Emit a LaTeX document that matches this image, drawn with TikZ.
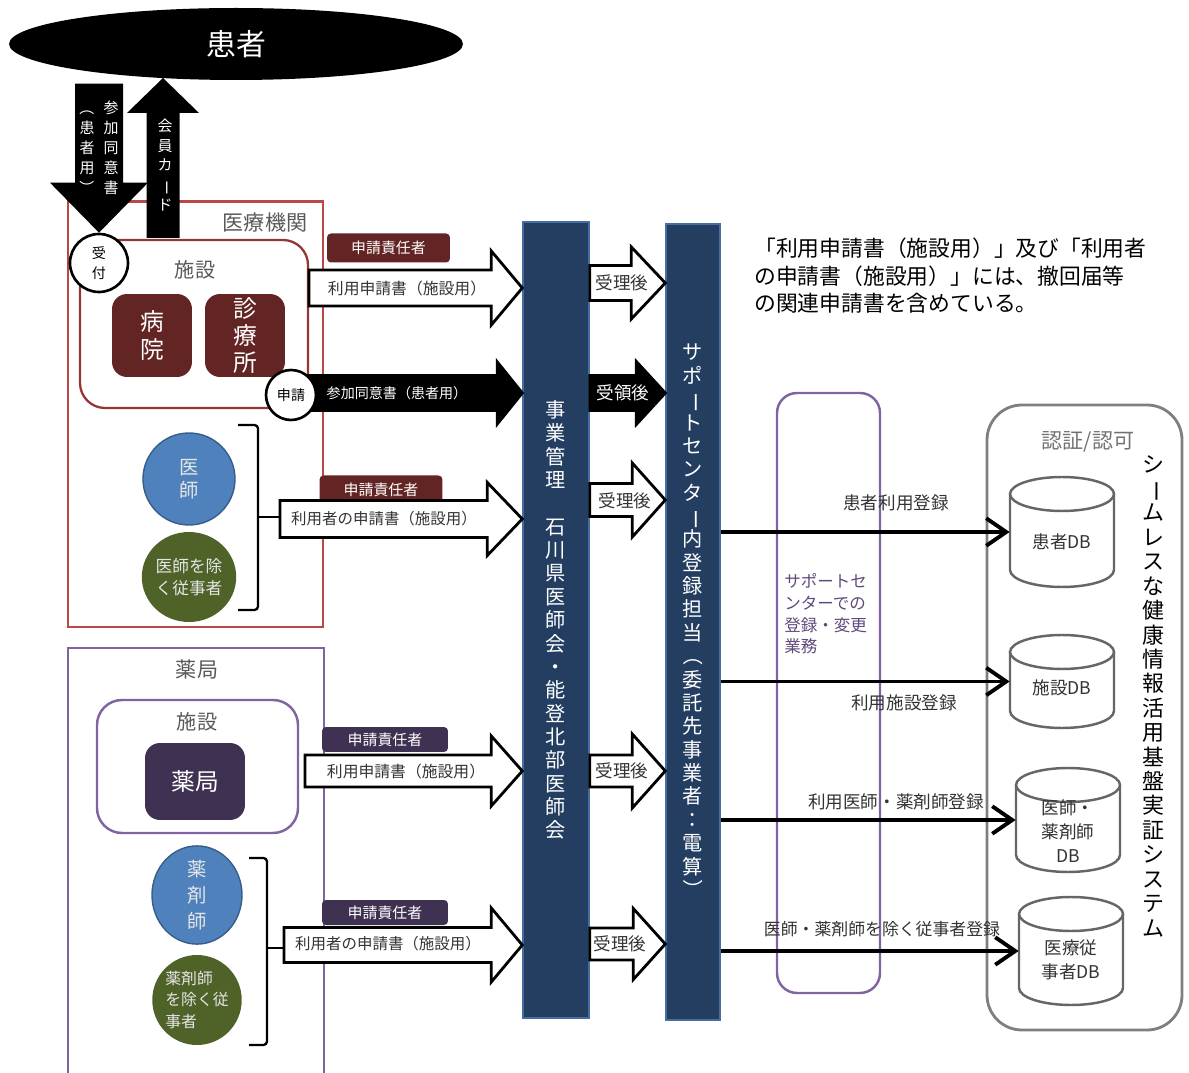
\documentclass[tikz,border=0pt]{standalone}
\usepackage{fontspec}
\setmainfont{Noto Sans CJK JP}
\usetikzlibrary{positioning,arrows.meta,shapes.geometric,calc,fit}
\definecolor{hospred}{RGB}{185,72,70}
\definecolor{facred}{RGB}{149,55,53}
\definecolor{darkred}{RGB}{99,37,35}
\definecolor{pharmpurple}{RGB}{128,100,162}
\definecolor{darkpurple}{RGB}{63,49,81}
\definecolor{purpletext}{RGB}{95,73,122}
\definecolor{colnavy}{RGB}{35,62,96}
\definecolor{coledge}{RGB}{70,110,160}
\definecolor{staffblue}{RGB}{79,129,189}
\definecolor{staffblueedge}{RGB}{56,93,138}
\definecolor{staffgreen}{RGB}{79,98,40}
\definecolor{sysgray}{RGB}{127,127,127}
\colorlet{labelgray}{black!65}
\newcommand{\vb}{\rotatebox[origin=c]{-90}{ー}}
\newcommand{\vlp}{\rotatebox[origin=c]{-90}{（}}
\newcommand{\vrp}{\rotatebox[origin=c]{-90}{）}}
\newcommand{\fs}[2]{\fontsize{#1pt}{#2pt}\selectfont}
% fat arrow: style, start, tip node, shaft half, head half, head length
\newcommand{\fatarrow}[6]{%
  \draw[#1] ($(#2)+(0,#4)$) -- ($(#3|-#2)+(-#6,#4)$) -- ($(#3|-#2)+(-#6,#5)$) -- (#3|-#2)
    -- ($(#3|-#2)+(-#6,-#5)$) -- ($(#3|-#2)+(-#6,-#4)$) -- ($(#2)+(0,-#4)$) -- cycle;}
% database: name, centre x, top, bottom
\newcommand{\dbcyl}[4]{%
  \draw[dbline] (#2-52,#3-17) -- (#2-52,#4+17) arc[start angle=180,end angle=360,x radius=1.04cm,y radius=0.34cm] -- (#2+52,#3-17);
  \draw[dbline] (#2,#3-17) ellipse[x radius=1.04cm,y radius=0.34cm];
  \node[fit={(#2-52,#4) (#2+52,#3)}] (#1) {};}

\begin{document}
\begin{tikzpicture}[x=0.02cm,y=0.02cm,
  every node/.style={font=\fs{9}{11}, text=black!80, inner sep=0pt},
  whitearrow/.style={draw=black, fill=white, line width=1.6pt},
  blackarrow/.style={draw=black, fill=black, line width=1.6pt},
  tabbox/.style={fill=#1, rounded corners=0.08cm, minimum width=2.46cm, minimum height=0.58cm, text=white, font=\fs{8.5}{10}},
  room/.style={fill=#1, rounded corners=0.3cm, text=white, align=center, font=\fs{13.5}{15.5}},
  staff/.style={ellipse, fill=#1, text=white!90!black, align=center},
  column/.style={fill=colnavy, draw=coledge, line width=0.8pt, text=white, align=center, font=\fs{11.5}{13.3}},
  brace/.style={line width=1.3pt, rounded corners=2pt},
  dbline/.style={draw=black!60, fill=white, line width=1.4pt},
  regarrow/.style={line width=2.2pt, -{Straight Barb[length=0.4cm,width=0.55cm]}},
  stubline/.style={line width=1.3pt}]
\useasboundingbox (0,0) rectangle (1189,1072);

% patient
\node[ellipse, fill=black, minimum width=9.08cm, minimum height=1.44cm, text=white, font=\fs{17}{20}] (patient) at (236,1028) {患者};

% medical institution
\draw[hospred, line width=1.7pt] (68,445) rectangle (323,870);
\node[text=labelgray, font=\fs{12}{14}] (hosplbl) at (265,849) {医療機関};
\draw[facred, line width=1.3pt, rounded corners=0.5cm] (80,664) rectangle (308,832);
\node[text=labelgray, font=\fs{11.5}{13}] (fac1lbl) at (195,802) {施設};
\node[room=darkred, minimum width=1.6cm, minimum height=1.66cm] (hosp) at (152,736.5) {病\\院};
\node[room=darkred, minimum width=1.6cm, minimum height=1.66cm] (clinic) at (245,736.5) {診\\療\\所};

% pharmacy
\draw[pharmpurple, line width=1.7pt] (68,-5) -- (68,424) -- (324,424) -- (324,-5);
\node[text=labelgray, font=\fs{12}{14}] (pharmlbl) at (197,403) {薬局};
\draw[pharmpurple, line width=1.4pt, rounded corners=0.5cm] (97,239) rectangle (298,372);
\node[text=labelgray, font=\fs{11.5}{13}] (fac2lbl) at (197,350) {施設};
\node[room=darkpurple, minimum width=2.0cm, minimum height=1.54cm] (pharmacy) at (195,290.5) {薬局};

% columns
\node[column, minimum width=1.32cm, minimum height=15.92cm] (col1) at (556,452)
  {事\\業\\管\\理\\\mbox{}\\石\\川\\県\\医\\師\\会\\・\\能\\登\\北\\部\\医\\師\\会};
\node[column, minimum width=1.08cm, minimum height=15.92cm] (col2) at (693,450)
  {サ\\ポ\\\vb\\ト\\セ\\ン\\タ\\\vb\\内\\登\\録\\担\\当\\\vlp\\委\\託\\先\\事\\業\\者\\：\\電\\算\\\vrp};

% patient arrows
\node[circle, draw=black, fill=white, line width=1.5pt, minimum size=1.16cm, align=center, font=\fs{8}{11}, text=black] (uketsuke) at (99,809) {受\\付};
\fill ($(uketsuke.north)+(-24,149)$) -- ($(uketsuke.north)+(24,149)$) -- ($(uketsuke.north)+(24,50)$) -- ($(uketsuke.north)+(49,50)$)
  -- (uketsuke.north) -- ($(uketsuke.north)+(-49,50)$) -- ($(uketsuke.north)+(-24,50)$) -- cycle;
\node[text=white, align=center, font=\fs{8.5}{11.3}] (consentR) at (111,924) {参\\加\\同\\意\\書};
\node[text=white, align=center, font=\fs{8.5}{11.3}] (consentL) at (87,924) {\vlp\\患\\者\\用\\\vrp};
\coordinate (cardtip) at (163,994);
\fill (cardtip) -- ($(cardtip)+(36,-35)$) -- ($(cardtip)+(16.5,-35)$) -- ($(cardtip)+(16.5,-160)$)
  -- ($(cardtip)+(-16.5,-160)$) -- ($(cardtip)+(-16.5,-35)$) -- ($(cardtip)+(-36,-35)$) -- cycle;
\node[text=white, align=center, font=\fs{8.5}{11.3}] (cardtxt) at (165,907) {会\\員\\カ\\\vb\\ド};

% hospital applications
\node[tabbox=darkred] (tab1) at (388.5,824) {申請責任者};
\coordinate (a1s) at (309,784);
\fatarrow{whitearrow}{a1s}{col1.west}{18}{37}{31}
\node (a1txt) at (407,784) {利用申請書（施設用）};
\coordinate (a2s) at (300,679);
\fatarrow{blackarrow}{a2s}{col1.west}{17.5}{31}{25}
\node[text=white, font=\fs{8}{10}] (a2txt) at (397,679) {参加同意書（患者用）};
\node[circle, draw=black, fill=white, line width=1.5pt, minimum size=1.0cm, font=\fs{8}{9}, text=black] (shinsei) at (291,677) {申請};

\node[staff=staffblue, draw=staffblueedge, line width=0.8pt, minimum width=1.84cm, minimum height=1.84cm, font=\fs{11}{13}] (doctor) at (189,593) {医\\師};
\node[staff=staffgreen, minimum width=1.78cm, minimum height=1.8cm, font=\fs{9.5}{12.5}] (docstaff) at (189,495) {医師を除\\く従事者};
\draw[brace] (238,647) -- (258,647) -- (258,462) -- (238,462);
\node[tabbox=darkred] (tab2) at (381,582) {申請責任者};
\coordinate (a3s) at (280,553);
\coordinate (br1) at (258,555);
\draw[stubline] (br1) -- (br1 -| a3s);
\fatarrow{whitearrow}{a3s}{col1.west}{18.5}{36.5}{35}
\node[font=\fs{8.8}{11}] (a3txt) at (384,553) {利用者の申請書（施設用）};

% pharmacy applications
\node[tabbox=darkpurple, minimum width=2.52cm, minimum height=0.5cm] (tab3) at (385,332.5) {申請責任者};
\coordinate (a4s) at (305,301);
\fatarrow{whitearrow}{a4s}{col1.west}{16}{35}{31}
\node (a4txt) at (406,301) {利用申請書（施設用）};
\node[staff=staffblue, draw=staffblueedge, line width=0.8pt, minimum width=1.8cm, minimum height=1.92cm, font=\fs{11}{14.7}] (pharmacist) at (197,177) {薬\\剤\\師};
\node[staff=staffgreen, minimum width=1.76cm, minimum height=1.8cm, font=\fs{9}{12.5}, align=left] (pharmstaff) at (197,72) {薬剤師\\を除く従\\事者};
\draw[brace] (249,214) -- (267,214) -- (267,27) -- (249,27);
\node[tabbox=darkpurple, minimum width=2.52cm, minimum height=0.5cm] (tab4) at (385,159.5) {申請責任者};
\coordinate (a5s) at (284,127);
\coordinate (br2) at (267,124);
\draw[stubline] (br2) -- (br2 -| a5s);
\fatarrow{whitearrow}{a5s}{col1.west}{17.5}{37}{31}
\node[font=\fs{8.8}{11}] (a5txt) at (388,128) {利用者の申請書（施設用）};

% between the columns
\coordinate (r1s) at (col1.east|-0,789);
\fatarrow{whitearrow}{r1s}{col2.west}{17.5}{36}{34}
\node[font=\fs{10}{12}] (r1txt) at (622,789) {受理後};
\coordinate (r2s) at (col1.east|-0,679);
\fatarrow{blackarrow}{r2s}{col2.west}{17.5}{31.5}{29}
\node[text=white, font=\fs{10}{12}] (r2txt) at (623,679) {受領後};
\coordinate (r3s) at (col1.east|-0,572);
\fatarrow{whitearrow}{r3s}{col2.west}{16.5}{37}{33}
\node[font=\fs{10}{12}] (r3txt) at (625,571) {受理後};
\coordinate (r4s) at (col1.east|-0,301);
\fatarrow{whitearrow}{r4s}{col2.west}{16}{37}{33}
\node[font=\fs{10}{12}] (r4txt) at (622,301) {受理後};
\coordinate (r5s) at (col1.east|-0,128);
\fatarrow{whitearrow}{r5s}{col2.west}{16}{35.5}{32}
\node[font=\fs{10}{12}] (r5txt) at (620,128) {受理後};

% note
\node[anchor=north west, align=left, font=\fs{12.4}{15.6}, text=black] (note) at (754,834)
  {「利用申請書（施設用）」及び「利用者\\の申請書（施設用）」には、撤回届等\\の関連申請書を含めている。};

% system
\draw[sysgray, line width=1.6pt, rounded corners=0.7cm] (987,42) rectangle (1182,667);
\node[text=sysgray!90!black, font=\fs{12}{14}] (authlbl) at (1088,630) {認証/認可};
\node[align=center, font=\fs{12.5}{13.9}, text=black] (systxt) at (1153,376)
  {シ\\\vb\\ム\\レ\\ス\\な\\健\\康\\情\\報\\活\\用\\基\\盤\\実\\証\\シ\\ス\\テ\\ム};
\draw[pharmpurple, line width=1.4pt, rounded corners=0.4cm] (777,79) rectangle (880,679);
\node[anchor=west, align=left, text=purpletext, font=\fs{9.4}{12.3}] (sctxt) at (784,458) {サポートセ\\ンターでの\\登録・変更\\業務};

\dbcyl{dbA}{1062}{595}{485}
\node[font=\fs{10}{12}] (dbAtxt) at (1062,530) {患者DB};
\dbcyl{dbB}{1062}{437}{344}
\node[font=\fs{10}{12}] (dbBtxt) at (1062,384) {施設DB};
\dbcyl{dbC}{1068}{304}{200}
\node[align=center, font=\fs{10}{13.6}] (dbCtxt) at (1068,241) {医師・\\薬剤師\\DB};
\dbcyl{dbD}{1071}{175}{67}
\node[align=center, font=\fs{10}{13.6}] (dbDtxt) at (1071,112) {医療従\\事者DB};

\draw[regarrow] (col2.east|-dbA.west) -- (dbA.west);
\draw[regarrow] (col2.east|-dbB.west) -- (dbB.west);
\draw[regarrow] (col2.east|-dbC.west) -- (dbC.west);
\draw[regarrow] (col2.east|-dbD.west) -- (dbD.west);
\node[font=\fs{10}{12}] (regA) at (896,569) {患者利用登録};
\node[font=\fs{10}{12}] (regB) at (904,369) {利用施設登録};
\node[font=\fs{10}{12}] (regC) at (896,270) {利用医師・薬剤師登録};
\node[font=\fs{9.6}{12}] (regD) at (882,143) {医師・薬剤師を除く従事者登録};
\end{tikzpicture}
\end{document}
